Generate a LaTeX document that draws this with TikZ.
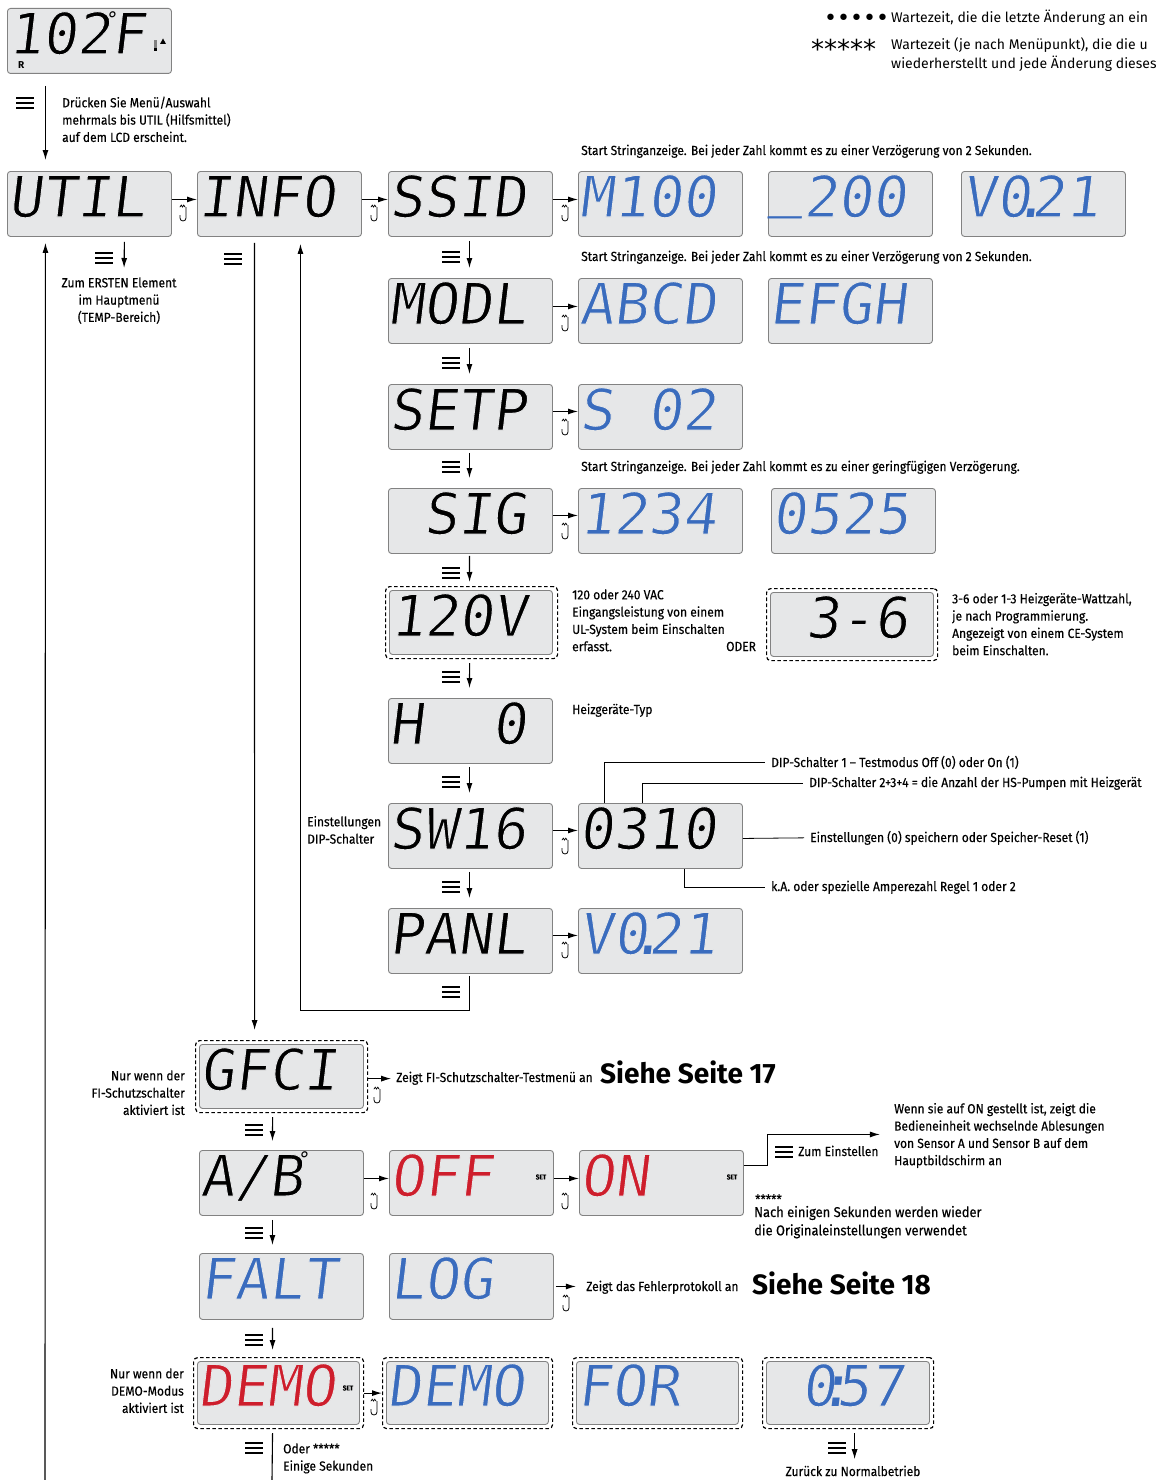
\documentclass[tikz,border=0pt]{standalone}
\usepackage{fontspec}
\usetikzlibrary{arrows.meta,calc}
\setmainfont{Fira Sans}
\newfontfamily\bodyfont[FakeStretch=0.91,FakeBold=0.3]{Fira Sans}
\newfontfamily\legendfont{Fira Sans}
\newfontfamily\lcdfont[FakeSlant=0.12]{DejaVu Sans Mono}
\newfontfamily\symfont{DejaVu Sans}

\definecolor{lcdfill}{RGB}{230,231,232}
\definecolor{lcdedge}{RGB}{130,130,130}

% segment glyphs: filled in the given colour and outlined in the panel grey,
% which makes their strokes thinner
\newcommand\segcol[3]{\special{pdf:code #1 #2 #3 rg 2 Tr 1 w 0.902 0.906 0.910 RG}}
\newcommand\thinoff{\special{pdf:code 0 Tr}}
\newcommand\thinresume{\special{pdf:code 2 Tr}}
% empty digit cell, and marks that sit between two cells
\newcommand\lcdgap{\hphantom{0}}
\newcommand\lcdpt{\makebox[0pt]{\thinoff.\thinresume}}
\newcommand\lcdcolon{\makebox[0pt]{\thinoff:\thinresume}}
\newcommand\lcdunder{\raisebox{12pt}{\thinoff\_\thinresume}}
\newcommand\lcddeg[1]{\makebox[0pt]{\raisebox{#1}{\thinoff\fontsize{20}{20}\selectfont °\thinresume}}}

\begin{document}
\begin{tikzpicture}[x=1pt,y=-1pt,
  lcd/.style={draw=lcdedge, fill=lcdfill, line width=0.9pt, rounded corners=3pt,
    minimum width=164pt, minimum height=65pt, inner sep=0pt, anchor=north west},
  dbox/.style={draw=black, line width=1.2pt, dash pattern=on 3.6pt off 2.4pt,
    rounded corners=4pt, minimum width=172pt, minimum height=72pt,
    inner sep=0pt, anchor=north west},
  seg/.style={font=\lcdfont\fontsize{57}{57}\selectfont, inner sep=0pt, anchor=base west,
    execute at begin node={\segcol{0}{0}{0}}, execute at end node={\thinoff}},
  segblue/.style={font=\lcdfont\fontsize{57}{57}\selectfont, inner sep=0pt, anchor=base west,
    execute at begin node={\segcol{0.227}{0.424}{0.745}}, execute at end node={\thinoff}},
  segred/.style={font=\lcdfont\fontsize{57}{57}\selectfont, inner sep=0pt, anchor=base west,
    execute at begin node={\segcol{0.808}{0.118}{0.173}}, execute at end node={\thinoff}},
  note/.style={font=\bodyfont\fontsize{13.2}{17.3}\selectfont, inner sep=0pt,
    align=left, anchor=north west},
  txt/.style={font=\bodyfont\fontsize{13.2}{17.3}\selectfont, inner sep=0pt, anchor=base west},
  small/.style={txt},
  big/.style={font=\legendfont\bfseries\fontsize{28}{30}\selectfont, inner sep=0pt, anchor=base west},
  legend/.style={font=\legendfont\fontsize{14}{17}\selectfont, inner sep=0pt, anchor=base west},
  settag/.style={font=\bodyfont\bfseries\fontsize{7}{7}\selectfont, inner sep=0pt},
  arr/.style={line width=1.1pt, -{Latex[length=10pt,width=6pt]}},
  wire/.style={line width=1.1pt},
  callout/.style={line width=0.8pt},
  menu/.pic={\fill (-9,-6.4) rectangle (9,-3.6);
             \fill (-9,-1.4) rectangle (9,1.4);
             \fill (-9,3.6) rectangle (9,6.4);},
  hook/.pic={\draw[line width=0.7pt, line cap=round]
               (-3,-8) .. controls (-3,-10.5) and (-0.5,-10.5) .. (-0.5,-8)
               .. controls (-0.5,-10.5) and (2,-10.5) .. (2,-8);
             \draw[line width=0.8pt] (3,-8) -- (3,3)
               arc[start angle=0, end angle=180, radius=3] -- (-3,0);}
]
\useasboundingbox (0,0) rectangle (1156,1480);
\clip (0,0) rectangle (1156,1480);

% ---------- legend ----------
\node[font=\symfont\fontsize{22}{22}\selectfont, inner sep=0pt, anchor=base west] (dots) at (824,26) {•••••};
\node[legend] (dotsnote) at (891,23) {Wartezeit, die die letzte Änderung an ein};
\node[font=\symfont\fontsize{26}{26}\selectfont, inner sep=0pt, anchor=base west] (stars) at (811,59) {*****};
\node[legend] (starsnote) at (891,50) {Wartezeit (je nach Menüpunkt), die die u};
\node[legend] (starsnote2) at (891,69) {wiederherstellt und jede Änderung dieses};

% ---------- dashed frames ----------
\node[dbox] (voltD) at (385,586) {};
\node[dbox, minimum width=171pt] (wattD) at (766,588) {};
\node[dbox] (gfciD) at (195,1040) {};
\node[dbox, minimum width=170pt, minimum height=71pt] (demoD) at (193,1357) {};
\node[dbox, minimum width=170pt, minimum height=71pt] (demoAD) at (382,1357) {};
\node[dbox, minimum width=170pt, minimum height=71pt] (demoBD) at (572,1357) {};
\node[dbox, minimum width=171pt, minimum height=71pt] (demoCD) at (762,1357) {};

% ---------- displays ----------
\node[lcd] (temp) at (7,8) {};
\node[lcd] (util) at (7,171) {};
\node[lcd] (info) at (197,171) {};
\node[lcd] (ssid) at (388,171) {};
\node[lcd] (ssidA) at (578,171) {};
\node[lcd] (ssidB) at (768,171) {};
\node[lcd] (ssidC) at (961,171) {};
\node[lcd] (modl) at (388,278) {};
\node[lcd] (modlA) at (578,278) {};
\node[lcd] (modlB) at (768,278) {};
\node[lcd] (setp) at (388,384) {};
\node[lcd] (setpA) at (578,384) {};
\node[lcd] (sig) at (388,488) {};
\node[lcd] (sigA) at (578,488) {};
\node[lcd] (sigB) at (771,488) {};
\node[lcd, minimum width=163pt, minimum height=64pt] (volt) at (389,590) {};
\node[lcd, minimum width=163pt, minimum height=64pt] (watt) at (770,592) {};
\node[lcd] (heat) at (388,698) {};
\node[lcd] (sw) at (388,803) {};
\node[lcd] (swA) at (578,803) {};
\node[lcd] (panl) at (388,908) {};
\node[lcd] (panlA) at (578,908) {};
\node[lcd, minimum height=64pt] (gfci) at (199,1044) {};
\node[lcd] (ab) at (199,1150) {};
\node[lcd] (abOff) at (389,1150) {};
\node[lcd] (abOn) at (579,1150) {};
\node[lcd, minimum height=66pt] (falt) at (199,1253) {};
\node[lcd, minimum height=66pt] (flog) at (389,1253) {};
\node[lcd, minimum width=162pt, minimum height=63pt] (demo) at (197,1361) {};
\node[lcd, minimum width=162pt, minimum height=63pt] (demoA) at (386,1361) {};
\node[lcd, minimum width=162pt, minimum height=63pt] (demoB) at (576,1361) {};
\node[lcd, minimum width=163pt, minimum height=63pt] (demoC) at (766,1361) {};

% ---------- display readings ----------
\node[seg] (temp-t) at (8,54) {102\lcddeg{27pt}F};
\node[font=\legendfont\bfseries\fontsize{10}{10}\selectfont, inner sep=0pt, anchor=base west] (temp-r) at (18,68) {R};
\fill[gray] (154,40) rectangle (157,51);
\fill (154,48) rectangle (157,51);
\fill (160,44) -- (166,44) -- (163,38.5) -- cycle;

\node[seg] (util-t) at (8,217) {UTIL};
\node[seg] (info-t) at (198,217) {INFO};
\node[seg] (ssid-t) at (389,217) {SSID};
\node[segblue] (ssidA-t) at (579,217) {M100};
\node[segblue] (ssidB-t) at (769,217) {\lcdunder200};
\node[segblue] (ssidC-t) at (962,217) {V0\lcdpt21};
\node[seg] (modl-t) at (389,324) {MODL};
\node[segblue] (modlA-t) at (579,324) {ABCD};
\node[segblue] (modlB-t) at (769,324) {EFGH};
\node[seg] (setp-t) at (389,430) {SETP};
\node[segblue] (setpA-t) at (579,430) {S\lcdgap02};
\node[seg] (sig-t) at (389,534) {\lcdgap SIG};
\node[segblue] (sigA-t) at (579,534) {1234};
\node[segblue] (sigB-t) at (772,534) {0525};
\node[seg] (volt-t) at (390,636) {120V};
\node[seg] (watt-t) at (771,638) {\lcdgap3-6};
\node[seg] (heat-t) at (389,744) {H\lcdgap\lcdgap0};
\node[seg] (sw-t) at (389,849) {SW16};
\node[seg] (swA-t) at (579,849) {0310};
\node[seg] (panl-t) at (389,954) {PANL};
\node[segblue] (panlA-t) at (579,954) {V0\lcdpt21};
\node[seg] (gfci-t) at (200,1090) {GFCI};
\node[seg] (ab-t) at (200,1196) {A/B\lcddeg{30pt}};
\node[segred] (off-t) at (390,1196) {OFF};
\node[settag] (off-set) at (541,1177) {SET};
\node[segred] (on-t) at (580,1196) {ON};
\node[settag] (on-set) at (732,1177) {SET};
\node[segblue] (falt-t) at (200,1299) {FALT};
\node[segblue] (flog-t) at (390,1299) {LOG};
\node[segred] (demo-t) at (198,1406) {DEMO};
\node[settag] (demo-set) at (348,1388) {SET};
\node[segblue] (demoA-t) at (387,1406) {DEMO};
\node[segblue] (demoB-t) at (577,1406) {FOR};
\node[segblue] (demoC-t) at (767,1406) {\lcdgap0\lcdcolon57};

% ---------- texts ----------
\node[note] (press) at (62,95) {\strut Drücken Sie Menü/Auswahl\\mehrmals bis UTIL (Hilfsmittel)\\auf dem LCD erscheint.};
\node[note, align=center, anchor=north] (first) at (119,275) {\strut Zum ERSTEN Element\\im Hauptmenü\\(TEMP-Bereich)};
\node[txt] (str1) at (581,155) {Start Stringanzeige. Bei jeder Zahl kommt es zu einer Verzögerung von 2 Sekunden.};
\node[txt] (str2) at (581,261) {Start Stringanzeige. Bei jeder Zahl kommt es zu einer Verzögerung von 2 Sekunden.};
\node[txt] (str3) at (581,471) {Start Stringanzeige. Bei jeder Zahl kommt es zu einer geringfügigen Verzögerung.};
\node[note] (ul) at (572,587) {\strut 120 oder 240 VAC\\Eingangsleistung von einem\\UL-System beim Einschalten\\erfasst.};
\node[txt] (oder) at (726,651) {ODER};
\node[note] (ce) at (952,591) {\strut 3-6 oder 1-3 Heizgeräte-Wattzahl,\\je nach Programmierung.\\Angezeigt von einem CE-System\\beim Einschalten.};
\node[txt] (htype) at (572,714) {Heizgeräte-Typ};
\node[note] (dipname) at (307,814) {\strut Einstellungen\\DIP-Schalter};
\node[small] (dip1) at (771,767) {DIP-Schalter 1 – Testmodus Off (0) oder On (1)};
\node[small] (dip2) at (809,787) {DIP-Schalter 2+3+4 = die Anzahl der HS-Pumpen mit Heizgerät};
\node[small] (dip3) at (810,842) {Einstellungen (0) speichern oder Speicher-Reset (1)};
\node[small] (dip4) at (771,891) {k.A. oder spezielle Amperezahl Regel 1 oder 2};
\node[note, align=right, anchor=north east] (gfnote) at (185,1068) {\strut Nur wenn der\\FI-Schutzschalter\\aktiviert ist};
\node[small] (gftest) at (396,1082) {Zeigt FI-Schutzschalter-Testmenü an};
\node[big] (p17) at (600,1083) {Siehe Seite 17};
\node[note] (onnote) at (894,1101) {\strut Wenn sie auf ON gestellt ist, zeigt die\\Bedieneinheit wechselnde Ablesungen\\von Sensor A und Sensor B auf dem\\Hauptbildschirm an};
\node[txt] (setit) at (798,1156) {Zum Einstellen};
\node[txt] (revstars) at (755,1204) {*****};
\node[note, font=\bodyfont\fontsize{14.2}{18.3}\selectfont] (revert) at (754,1204) {\strut Nach einigen Sekunden werden wieder\\die Originaleinstellungen verwendet};
\node[small] (logtxt) at (586,1291) {Zeigt das Fehlerprotokoll an};
\node[big] (p18) at (752,1294) {Siehe Seite 18};
\node[note, align=right, anchor=north east] (demonote) at (184,1366) {\strut Nur wenn der\\DEMO-Modus\\aktiviert ist};
\node[note] (orwait) at (283,1441) {\strut Oder *****\\Einige Sekunden};
\node[txt, anchor=base] (back) at (853,1476) {Zurück zu Normalbetrieb};

% ---------- menu button marks ----------
\pic at (25,103) {menu};
\pic at (104,258) {menu};
\pic at (233,259) {menu};
\pic at (451,257) {menu};
\pic at (451,363) {menu};
\pic at (451,467) {menu};
\pic at (451,573) {menu};
\pic at (451,677) {menu};
\pic at (451,782) {menu};
\pic at (451,887) {menu};
\pic at (451,992) {menu};
\pic at (254,1130) {menu};
\pic at (254,1233) {menu};
\pic at (254,1340) {menu};
\pic at (254,1448) {menu};
\pic at (784,1152) {menu};
\pic at (837,1448) {menu};

% ---------- select button marks ----------
\pic at (183,215) {hook};
\pic at (374,215) {hook};
\pic at (565,215) {hook};
\pic at (565,325) {hook};
\pic at (565,429) {hook};
\pic at (565,533) {hook};
\pic at (565,848) {hook};
\pic at (565,952) {hook};
\pic at (377,1097) {hook};
\pic at (374,1203) {hook};
\pic at (565,1203) {hook};
\pic at (566,1305) {hook};
\pic at (374,1409) {hook};

% ---------- connectors ----------
\coordinate (loopin) at (45,1480);
\coordinate (demoout) at (272,1480);

\draw[arr, shorten <=12pt, shorten >=11pt] ([xshift=-44pt]temp.south) -- ([xshift=-44pt]util.north);
\draw[arr] ([yshift=4.5pt]util.east) -- ([yshift=4.5pt]info.west);
\draw[arr] ([yshift=4.5pt]info.east) -- ([yshift=4.5pt]ssid.west);
\draw[arr] ([yshift=4.5pt]ssid.east) -- ([yshift=4.5pt]ssidA.west);
\draw[arr] ([yshift=4.5pt]modl.east) -- ([yshift=4.5pt]modlA.west);
\draw[arr] ([yshift=5.5pt]setp.east) -- ([yshift=5.5pt]setpA.west);
\draw[arr] ([yshift=5.5pt]sig.east) -- ([yshift=5.5pt]sigA.west);
\draw[arr] ([yshift=5.5pt]sw.east) -- ([yshift=5.5pt]swA.west);
\draw[arr] ([yshift=5.5pt]panl.east) -- ([yshift=5.5pt]panlA.west);

\draw[arr, shorten <=5pt, shorten >=7pt] ([xshift=35pt]util.south) -- ([xshift=5pt]first.north);
\draw[arr, shorten >=6pt] (loopin) -- ([xshift=-44pt]util.south);
\draw[arr, shorten <=6pt, shorten >=10pt] ([xshift=-25pt]info.south) -- ([xshift=-27pt]gfciD.north);
\draw[arr, shorten <=2pt, shorten >=7pt] ([xshift=-1pt]panl.south) -- ++(0,37) -| ([xshift=21pt]info.south);

\draw[arr, shorten <=4pt, shorten >=10pt] ([xshift=-1pt]ssid.south) -- ([xshift=-1pt]modl.north);
\draw[arr, shorten <=4pt, shorten >=10pt] ([xshift=-1pt]modl.south) -- ([xshift=-1pt]setp.north);
\draw[arr, shorten <=3pt, shorten >=10pt] ([xshift=-1pt]setp.south) -- ([xshift=-1pt]sig.north);
\draw[arr, shorten <=2pt, shorten >=4pt] ([xshift=-1pt]sig.south) -- ([xshift=-2pt]voltD.north);
\draw[arr, shorten <=4pt, shorten >=10pt] ([xshift=-2pt]voltD.south) -- ([xshift=-1pt]heat.north);
\draw[arr, shorten <=3pt, shorten >=10pt] ([xshift=-1pt]heat.south) -- ([xshift=-1pt]sw.north);
\draw[arr, shorten <=3pt, shorten >=10pt] ([xshift=-1pt]sw.south) -- ([xshift=-1pt]panl.north);

\draw[callout] ([xshift=-56pt]swA.north) |- ([xshift=-6pt]dip1.west);
\draw[callout] ([xshift=-18pt]swA.north) |- ([xshift=-6pt]dip2.west);
\draw[callout] ([yshift=-2.5pt]swA.east) -- ([xshift=-6pt]dip3.west);
\draw[callout] ([xshift=24pt]swA.south) |- ([xshift=-6pt]dip4.west);

\draw[arr] ([yshift=-2pt]gfciD.east) -- ++(23,0);
\draw[arr, shorten <=4pt, shorten >=9pt] ([xshift=-9pt]gfciD.south) -- ([xshift=-9pt]ab.north);
\draw[arr] ([yshift=4.5pt]ab.east) -- ([yshift=4.5pt]abOff.west);
\draw[arr] ([yshift=4.5pt]abOff.east) -- ([yshift=4.5pt]abOn.west);
\draw[arr] ([yshift=17.5pt]abOn.east) -- ++(24,0) -- ++(0,-31) -- ++(112,0);
\draw[arr, shorten <=4pt, shorten >=8pt] ([xshift=-9pt]ab.south) -- ([xshift=-9pt]falt.north);
\draw[arr, shorten <=2pt] (flog.east) -- ++(22,0);
\draw[arr, shorten <=8pt, shorten >=7pt] ([xshift=-9pt]falt.south) -- ([xshift=-6pt]demoD.north);
\draw[arr] (demoD.east) -- (demoAD.west);
\draw[wire, shorten <=4pt] ([xshift=-6pt]demoD.south) -- (demoout);
\draw[arr, shorten <=4pt] ([xshift=6.5pt]demoCD.south) -- ++(0,30);
\end{tikzpicture}
\end{document}
